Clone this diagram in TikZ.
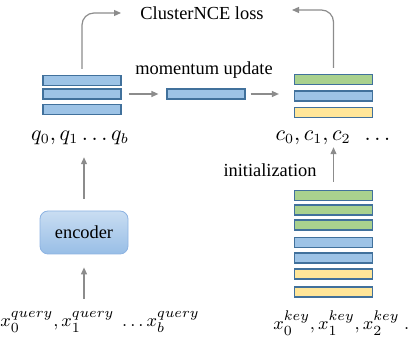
\documentclass[tikz,border=0pt]{standalone}
\usepackage{fontspec}
\setmainfont{Liberation Serif}
\usetikzlibrary{arrows.meta}

\definecolor{barblue}{HTML}{9DC3E6}
\definecolor{bargreen}{HTML}{A9D18E}
\definecolor{baryellow}{HTML}{FFE699}
\definecolor{barline}{HTML}{41719C}
\definecolor{arrowgray}{HTML}{8C8C8C}
\definecolor{enctop}{HTML}{C9DDF2}
\definecolor{encbottom}{HTML}{98BEE6}
\definecolor{encline}{HTML}{8DB3E2}

\tikzset{
  vec/.style={draw=barline, line width=0.6pt, minimum width=39pt, minimum height=5pt, inner sep=0pt},
  flow/.style={draw=arrowgray, line width=0.6pt, -{Triangle[length=3.5pt,width=3pt]}},
  txt/.style={font=\rmfamily\fontsize{9.2}{11}\selectfont, inner sep=0pt},
  lbl/.style={font=\fontsize{10.5}{12}\selectfont, inner sep=0pt},
  xlbl/.style={font=\fontsize{9.3}{11}\selectfont, inner sep=0pt},
  enc/.style={draw=encline, rounded corners=4pt, top color=enctop, bottom color=encbottom,
    minimum width=44pt, minimum height=21.5pt, txt},
}

\begin{document}
\begin{tikzpicture}[x=0.5pt, y=-0.5pt]
\useasboundingbox (0,0) rectangle (412,341);

% query side
\node[vec, fill=barblue] (q1) at (82, 80.5) {};
\node[vec, fill=barblue] (q2) at (82, 94) {};
\node[vec, fill=barblue] (q3) at (82, 109.5) {};
\node[lbl] (qlab) at (80, 138) {$q_0, q_1\,{\ldots}\,q_b$};

\node[enc] (encoder) at (84, 232.5) {encoder};
\node[xlbl] (xquery) at (100, 322) {$x_0^{query}{,}\,x_1^{query}\ \,{\ldots}\,x_b^{query}$};

% momentum
\node[vec, fill=barblue] (mom) at (206, 94) {};
\node[txt] (momtxt) at (204, 70) {momentum update};

% cluster side
\node[vec, fill=bargreen] (c1) at (333.5, 79.5) {};
\node[vec, fill=barblue] (c2) at (333.5, 96) {};
\node[vec, fill=baryellow] (c3) at (333.5, 112.5) {};
\node[lbl] (clab) at (333, 138) {$c_0, c_1, c_2\ \ \ldots$};

\node[txt] (inittxt) at (270, 170) {initialization};

\node[vec, fill=bargreen] (k1) at (333.5, 195.5) {};
\node[vec, fill=bargreen] (k2) at (333.5, 210) {};
\node[vec, fill=bargreen] (k3) at (333.5, 225) {};
\node[vec, fill=barblue] (k4) at (333.5, 242.5) {};
\node[vec, fill=barblue] (k5) at (333.5, 258) {};
\node[vec, fill=baryellow] (k6) at (333.5, 274) {};
\node[vec, fill=baryellow] (k7) at (333.5, 292) {};
\node[xlbl, anchor=west] (xkey) at (273, 323) {$x_0^{key}{,}\,x_1^{key}{,}\,x_2^{key}\ {\ldots}$};

% loss
\node[txt] (loss) at (202, 13) {ClusterNCE loss};
\coordinate (lossL) at (121, 13);
\coordinate (lossR) at (292, 10);

\draw[flow, rounded corners=6pt, shorten <=3pt] (q1.north) |- (lossL);
\draw[flow, rounded corners=6pt, shorten <=3pt] (c1.north) |- (lossR);

\draw[flow, shorten <=3.5pt, shorten >=4pt] (q2.east) -- (q2.east -| mom.west);
\draw[flow, shorten <=2.5pt, shorten >=7.5pt] (mom.east) -- (mom.east -| c2.west);

\draw[flow, shorten <=6pt, shorten >=6pt] (encoder.north) -- (encoder.north |- qlab.south);
\draw[flow, shorten <=6pt, shorten >=6.5pt] (encoder.south |- xquery.north) -- (encoder.south);

\draw[flow, shorten <=4pt, shorten >=1pt] (k1.north) -- (k1.north |- clab.south);

\end{tikzpicture}
\end{document}
